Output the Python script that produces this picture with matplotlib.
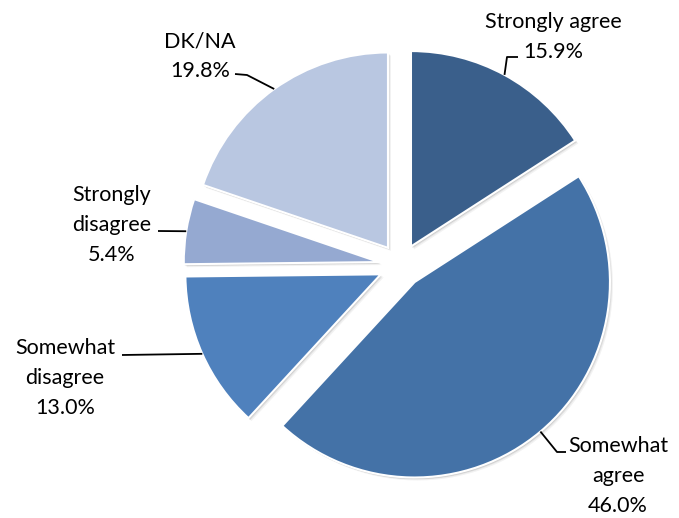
import numpy as np
from matplotlib import pyplot as plt

labels = ['Strongly agree', 'Somewhat\nagree', 'Somewhat\ndisagree', 'Strongly\ndisagree', 'DK/NA']
shares = [15.9, 46.0, 13.0, 5.4, 19.8]
colors = ['#3A5F8B', '#4472A7', '#4F81BD', '#95A9D1', '#B9C7E1']

# pie geometry in pixels (centre, radius) and explode fraction
cx, cy, R = 400.6, 265.5, 195.4
explode = 0.111

def px(x, y):
    # pixel position -> data units of the axes
    return ((x - cx) / R, (cy - y) / R)

# label text centres and leader-line bend points (pixels)
text_pos = [(553, 37), (618, 476), (65, 378), (112, 225), (200, 56)]
leader_pts = [
    [(507, 57), (518, 57)],
    [(557, 452), (566, 452)],
    [(122, 355)],
    [(158, 231)],
    [(247, 75), (235, 74)],
]

plt.rcParams['font.family'] = ['Lato', 'DejaVu Sans']

fig = plt.figure(figsize=(6.79, 5.18), dpi=100)
ax = fig.add_axes([0, 0, 1, 1])

# soft shadow under the slices
for k, (dx, dy, a) in enumerate([(3, -3, 0.05), (2, -2, 0.07), (1, -1.5, 0.09)]):
    ws, _ = ax.pie(shares, colors=['black'] * len(shares), startangle=90, counterclock=False,
                   explode=[explode] * len(shares), radius=1.0,
                   center=(dx / R, dy / R), wedgeprops=dict(alpha=a, linewidth=0))

wedges, _ = ax.pie(shares, colors=colors, startangle=90, counterclock=False,
                   explode=[explode] * len(shares), radius=1.0,
                   wedgeprops=dict(edgecolor='white', linewidth=1.5))

for i, w in enumerate(wedges):
    mid = np.deg2rad((w.theta1 + w.theta2) / 2)
    r = 1.0 + explode
    anchor = (r * np.cos(mid), r * np.sin(mid))
    pts = [anchor] + [px(*p) for p in leader_pts[i]]
    xs, ys = zip(*pts)
    ax.plot(xs, ys, color='black', lw=1.3, solid_capstyle='butt')
    pct = '%.1f%%' % shares[i]
    tx, ty = px(*text_pos[i])
    ax.text(tx, ty, labels[i] + '\n' + pct,
            ha='center', va='center', multialignment='center',
            fontsize=15.5, linespacing=1.62, color='black')

ax.set_xlim(-cx / R, (679 - cx) / R)
ax.set_ylim(-(518 - cy) / R, cy / R)
ax.set_aspect('equal')
ax.axis('off')
plt.savefig('out.png', dpi=100)
